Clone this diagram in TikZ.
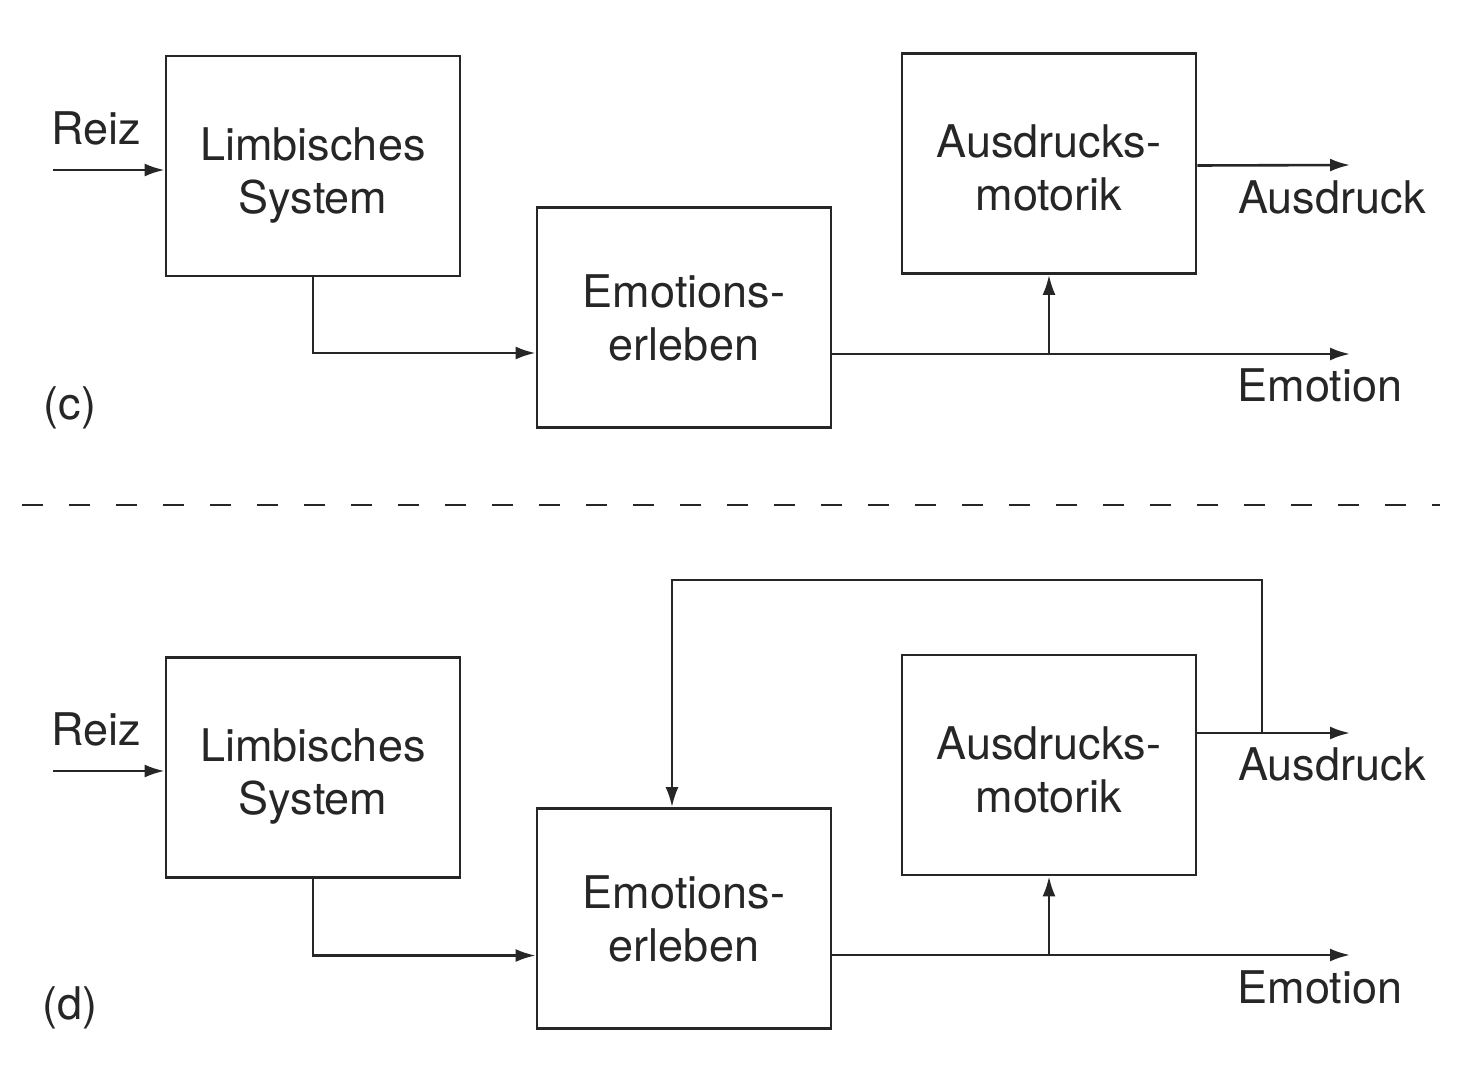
\documentclass[tikz,border=0pt]{standalone}
\usepackage{fontspec}
\setmainfont{TeX Gyre Heros}
\usetikzlibrary{arrows.meta}
\definecolor{ink}{HTML}{262626}
% extra room above the first line of a box text, to lower it in its box
\newcommand\padtop[1]{\rule{0pt}{#1}}
\begin{document}
\begin{tikzpicture}[x=1pt,y=-1pt,
  box/.style={draw=ink,line width=2.8pt,minimum width=294pt,minimum height=220pt,
    align=center,inner sep=0pt,font=\fontsize{45}{53}\selectfont,text=ink},
  lbl/.style={inner sep=0pt,font=\fontsize{45}{53}\selectfont,text=ink},
  conn/.style={draw=ink,line width=2.6pt},
  arr/.style={conn,-{Latex[length=20pt,width=13pt]}}]
\useasboundingbox[fill=white] (0,0) rectangle (1461,1067);

% ---------- variant (c) ----------
\node[box] (limbc) at (313,166) {\padtop{52pt}Limbisches\\System};
\node[box] (emoc)  at (684,317.5) {Emotions-\\erleben};
\node[box] (ausc)  at (1049,163.5) {\padtop{42pt}Ausdrucks-\\motorik};
\coordinate (reizc) at (53,170);
\coordinate (emoendc) at (1350,354);
\coordinate (ausendc) at (1350,165);
\node[lbl] (reizlc) at (96,128) {Reiz};
\node[lbl] (ausdlc) at (1332,197) {Ausdruck};
\node[lbl] (emolc) at (1320,385) {Emotion};
\node[lbl] (tagc) at (70,408) {(c)};

\draw[arr] (reizc) -- (reizc -| limbc.west);
\draw[arr] (limbc.south) |- ([yshift=-35.5pt]emoc.west);
\draw[arr] ([yshift=-36.5pt]emoc.east) -- (emoendc);
\draw[arr] (ausc.south |- emoendc) -- (ausc.south);
\draw[arr] ([yshift=-2pt]ausc.east) -- (ausendc);

% ---------- separator ----------
\coordinate (sepl) at (22,505);
\coordinate (sepr) at (1440,505);
\draw[draw=ink,line width=2.8pt,dash pattern=on 21pt off 26pt] (sepl) -- (sepr);

% ---------- variant (d) ----------
\node[box] (limbd) at (313,767.5) {\padtop{50pt}Limbisches\\System};
\node[box] (emod)  at (684,918.5) {Emotions-\\erleben};
\node[box] (ausd)  at (1049,765) {\padtop{42pt}Ausdrucks-\\motorik};
\coordinate (reizd) at (53,771);
\coordinate (emoendd) at (1350,955);
\coordinate (ausendd) at (1350,733);
\coordinate (fbtop) at (1262,580);
\node[lbl] (reizld) at (96,729) {Reiz};
\node[lbl] (ausdld) at (1332,764) {Ausdruck};
\node[lbl] (emold) at (1320,987) {Emotion};
\node[lbl] (tagd) at (70,1008) {(d)};

\draw[arr] (reizd) -- (reizd -| limbd.west);
\draw[arr] (limbd.south) |- ([yshift=-37pt]emod.west);
\draw[arr] ([yshift=-36.5pt]emod.east) -- (emoendd);
\draw[arr] (ausd.south |- emoendd) -- (ausd.south);
\draw[arr] ([yshift=32pt]ausd.east) -- (ausendd);
\draw[arr] (fbtop |- ausendd) -- (fbtop) -| ([xshift=-12pt]emod.north);
\end{tikzpicture}
\end{document}
